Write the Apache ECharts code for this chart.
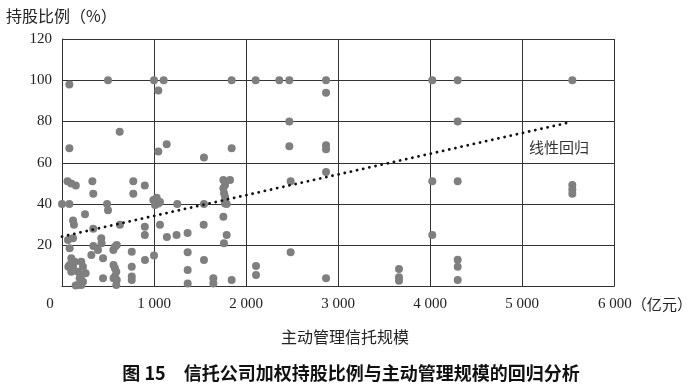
<!DOCTYPE html>
<html>
<head>
<meta charset="utf-8">
<script src="https://cdn.jsdelivr.net/npm/echarts@6/dist/echarts.min.js"></script>
<style>html,body{margin:0;padding:0;background:#fff}#c{width:700px;height:387px}</style>
</head>
<body>
<div id="c"></div>
<script>
// 主动管理信托规模（亿元）
const scaleX = [
  80, 500, 1000, 1105, 1047, 1844, 2105, 2362, 2471, 2870, 2870, 627, 80, 1047, 1138, 1543, 1844, 2471, 2471, 2870, 2870, 4025, 4301, 4301, 5547,
  4025, 4301, 4025, 4301, 4301, 4301, 5547, 5547, 5547, 2485, 2870, 2485, 2109, 2109, 2870, 3663, 3663, 3663,
  60, 100, 150, 330, 340, 775, 775, 900,
  1754, 1826, 1772, 1754, 1761, 1772, 1772, 1754,
  0, 80, 250, 490, 500, 120, 130, 340, 630, 900, 900,
  993, 1029, 1047, 1011, 1065, 1253, 1543, 1790, 1065, 1140, 1245, 1365, 1540, 1790, 1760,
  65, 120, 83, 427, 430, 391, 319, 446, 101, 138, 120, 83, 210, 228, 174, 210, 192, 228, 210, 174, 446, 101, 341, 69, 149, 257,
  558, 576, 595, 758, 902, 560, 575, 590, 575, 595, 560, 590, 758, 758, 758, 1000, 1366, 1366, 1366, 1543, 1645, 1645, 1844
];
// 持股比例（%）
const shareY = [
  98, 100, 100, 100, 95, 100, 100, 100, 100, 100, 94, 75, 67, 65.5, 69, 62.5, 67, 80, 68, 68.5, 66.5, 100, 100, 80, 100,
  51, 51, 25, 13, 9.6, 3.2, 49.2, 47, 45, 51, 55.5, 16.6, 10, 5.6, 4, 8.5, 4.5, 2.8,
  51, 50, 49, 51, 45, 51, 45, 49,
  51.6, 51.6, 49.2, 47.6, 45.2, 43.5, 40.3, 33.8,
  40, 40, 35, 40, 37, 32, 30, 28, 30, 29, 25,
  42, 43, 40.3, 39.5, 41, 40, 40, 40, 30, 24, 25, 26, 30, 25, 21,
  22.5, 23.4, 18.5, 23.4, 21, 17.7, 15.3, 13.7, 13.7, 12, 9.6, 10.4, 12, 9.6, 7.2, 5.6, 4, 2.3, 0.7, 0.7, 4, 7.2, 19.6, 9.6, 0.5, 6.4,
  17.7, 19.3, 20.1, 16.9, 12.8, 10.4, 8.8, 7.2, 4.8, 3.2, 4, 0.7, 9.6, 4.8, 3.2, 15, 16.6, 8, 1.5, 12.8, 4, 1.5, 3.2
];
// 线性回归
const regX = [0, 5520];
const regY = [24.2, 79.6];
const xTicks = [0, 1000, 2000, 3000, 4000, 5000, 6000];
const xTickLabels = ['0', '1 000', '2 000', '3 000', '4 000', '5 000', '6 000'];

const pts = scaleX.map((x, i) => [x, shareY[i]]);
const reg = regX.map((x, i) => [x, regY[i]]);

const chart = echarts.init(document.getElementById('c'), null, {renderer: 'canvas'});
const serif = '"Liberation Serif", "DejaVu Serif", serif';
const cjk = '"Noto Sans CJK SC", sans-serif';
chart.setOption({
  animation: false,
  backgroundColor: '#fff',
  grid: {left: 62, right: 86, top: 39, bottom: 100.5, show: false},
  xAxis: {
    type: 'value', min: 0, max: 6000, interval: 1000,
    axisLine: {show: true, lineStyle: {color: '#333', width: 1}},
    axisTick: {show: false},
    splitLine: {show: true, lineStyle: {color: '#333', width: 1}},
    axisLabel: {
      margin: 10, color: '#222', fontFamily: serif, fontSize: 15,
      formatter: function (v) {
        const i = xTicks.indexOf(v);
        const t = i >= 0 ? xTickLabels[i] : '';
        if (v === 0) return '{z|' + t + '}';
        if (v === 6000) return '{n|' + t + '}{u|（亿元）}';
        return t;
      },
      rich: {
        z: {fontFamily: serif, fontSize: 15, color: '#222', padding: [0, 24, 0, 0]},
        n: {fontFamily: serif, fontSize: 15, color: '#222', padding: [0, 0, 0, 62]},
        u: {fontFamily: cjk, fontSize: 15, color: '#222'}
      }
    }
  },
  yAxis: {
    type: 'value', min: 0, max: 120, interval: 20,
    axisLine: {show: true, lineStyle: {color: '#333', width: 1}},
    axisTick: {show: false},
    splitLine: {show: true, lineStyle: {color: '#333', width: 1}},
    axisLabel: {
      margin: 10, color: '#222', fontFamily: serif, fontSize: 15,
      formatter: v => v === 0 ? '' : String(v)
    }
  },
  series: [
    {
      type: 'scatter', data: pts, symbolSize: 8,
      itemStyle: {color: '#7f7f7f', opacity: 1}, z: 3
    },
    {
      type: 'line', data: reg, symbol: 'none', z: 4,
      lineStyle: {color: '#111', width: 2.8, type: [0.1, 6.2], cap: 'round'}
    }
  ],
  graphic: [
    {type: 'text', left: 6, top: 8, style: {text: '持股比例（%）', font: '16px ' + cjk, fill: '#222'}},
    {type: 'text', x: 559, y: 147, style: {text: '线性回归', font: '15px ' + cjk, fill: '#333', textAlign: 'center', textVerticalAlign: 'middle'}},
    {type: 'text', x: 345, y: 337, style: {text: '主动管理信托规模', font: '16px ' + cjk, fill: '#222', textAlign: 'center', textVerticalAlign: 'middle'}},
    {type: 'text', x: 351, y: 373, style: {text: '图 15　信托公司加权持股比例与主动管理规模的回归分析', font: 'bold 18px ' + cjk, fill: '#111', textAlign: 'center', textVerticalAlign: 'middle'}}
  ]
});
</script>
</body>
</html>
